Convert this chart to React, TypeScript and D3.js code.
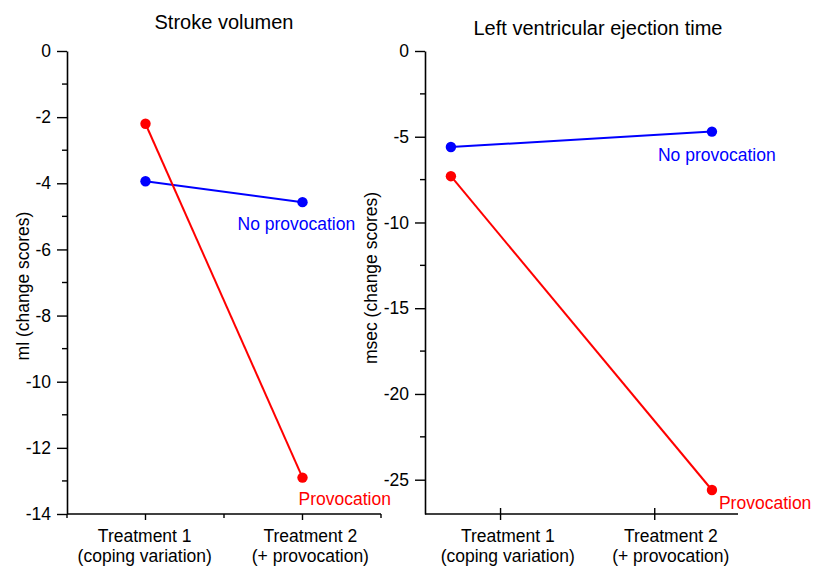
import React, { useEffect, useRef } from "react";
import * as d3 from "d3";

// categories on the x axis (two lines each)
const categories = ["Treatment 1", "Treatment 2"];
const categoryNotes = ["(coping variation)", "(+ provocation)"];

// stroke volume, ml change scores
const strokeNoProvocation = [-3.94, -4.57];
const strokeProvocation = [-2.2, -12.9];

// left ventricular ejection time, msec change scores
const lvetNoProvocation = [-5.6, -4.7];
const lvetProvocation = [-7.3, -25.6];

// y ticks
const strokeTicks = [0, -2, -4, -6, -8, -10, -12, -14];
const strokeMinor = [-1, -3, -5, -7, -9, -11, -13];
const lvetTicks = [0, -5, -10, -15, -20, -25];
const lvetMinor = [-2.5, -7.5, -12.5, -17.5, -22.5];

const FONT = "'Liberation Sans', Arial, Helvetica, sans-serif";
const RED = "#ff0000";
const BLUE = "#0000ff";

type Panel = {
  title: string;
  titleX: number;
  titleY: number;
  yLabel: string;
  yLabelX: number;
  yLabelY: number;
  xRange: [number, number];
  xDomain: [number, number];
  yDomain: [number, number];
  yTicks: number[];
  yMinor: number[];
  xMinor: number[];
  crossTicks: boolean;
  pointX: number[];
  labelX: number[];
  noProv: number[];
  prov: number[];
  noProvLabel: [number, number];
  provLabel: [number, number];
};

const panels: Panel[] = [
  {
    title: "Stroke volumen",
    titleX: 224,
    titleY: 29,
    yLabel: "ml (change scores)",
    yLabelX: 29,
    yLabelY: 286,
    xRange: [67, 381],
    xDomain: [0.5, 2.5],
    yDomain: [-14, 0],
    yTicks: strokeTicks,
    yMinor: strokeMinor,
    xMinor: [0.5, 1.5, 2.5],
    crossTicks: false,
    pointX: [1, 2],
    labelX: [0.995, 2.05],
    noProv: strokeNoProvocation,
    prov: strokeProvocation,
    noProvLabel: [-65, 27.5],
    provLabel: [-4, 27],
  },
  {
    title: "Left ventricular ejection time",
    titleX: 598,
    titleY: 35,
    yLabel: "msec (change scores)",
    yLabelX: 377,
    yLabelY: 278,
    xRange: [425, 738],
    xDomain: [0.51, 2.54],
    yDomain: [-27, 0],
    yTicks: lvetTicks,
    yMinor: lvetMinor,
    xMinor: [],
    crossTicks: true,
    pointX: [0.678, 2.371],
    labelX: [1.047, 2.104],
    noProv: lvetNoProvocation,
    prov: lvetProvocation,
    noProvLabel: [-54, 29],
    provLabel: [7, 18.6],
  },
];

const TOP = 51;
const BOTTOM = 514;

function drawPanel(svg: d3.Selection<SVGSVGElement, unknown, null, undefined>, p: Panel) {
  const g = svg.append("g").attr("font-family", FONT);
  const x = d3.scaleLinear().domain(p.xDomain).range(p.xRange);
  const y = d3.scaleLinear().domain(p.yDomain).range([BOTTOM, TOP]);
  const x0 = p.xRange[0];

  // title
  g.append("text")
    .attr("x", p.titleX)
    .attr("y", p.titleY)
    .attr("text-anchor", "middle")
    .attr("font-size", 20)
    .text(p.title);

  // y axis (plain hyphen for negatives, like the original)
  const yAxis = d3.axisLeft(y)
    .tickValues(p.yTicks)
    .tickFormat((d) => String(d))
    .tickSize(10)
    .tickPadding(6)
    .tickSizeOuter(0);
  const ya = g.append("g").attr("transform", "translate(" + x0 + ",0)").call(yAxis);
  ya.select(".domain").attr("stroke-width", 1.6);
  ya.selectAll(".tick line").attr("stroke-width", 1.4);
  ya.selectAll("text").attr("font-size", 17.5).attr("font-family", FONT).attr("fill", "#000");

  g.append("g")
    .selectAll("line")
    .data(p.yMinor)
    .join("line")
    .attr("x1", x0 - 5)
    .attr("x2", x0)
    .attr("y1", (d) => y(d))
    .attr("y2", (d) => y(d))
    .attr("stroke", "#000")
    .attr("stroke-width", 1.4);

  // x axis
  g.append("line")
    .attr("x1", p.xRange[0])
    .attr("x2", p.xRange[1])
    .attr("y1", BOTTOM)
    .attr("y2", BOTTOM)
    .attr("stroke", "#000")
    .attr("stroke-width", 1.6);

  g.append("g")
    .selectAll("line")
    .data([1, 2])
    .join("line")
    .attr("x1", (d) => x(d))
    .attr("x2", (d) => x(d))
    .attr("y1", p.crossTicks ? BOTTOM - 6 : BOTTOM)
    .attr("y2", BOTTOM + 6)
    .attr("stroke", "#000")
    .attr("stroke-width", 1.4);

  g.append("g")
    .selectAll("line")
    .data(p.xMinor)
    .join("line")
    .attr("x1", (d) => x(d))
    .attr("x2", (d) => x(d))
    .attr("y1", BOTTOM)
    .attr("y2", BOTTOM + 4)
    .attr("stroke", "#000")
    .attr("stroke-width", 1.4);

  const lab = g.append("g").selectAll("text").data(categories).join("text")
    .attr("text-anchor", "middle")
    .attr("font-size", 17.5);
  lab.append("tspan")
    .attr("x", (d, i) => x(p.labelX[i]))
    .attr("y", 542)
    .text((d) => d);
  lab.append("tspan")
    .attr("x", (d, i) => x(p.labelX[i]))
    .attr("y", 562)
    .text((d, i) => categoryNotes[i]);

  // y label
  g.append("text")
    .attr("transform", "translate(" + p.yLabelX + "," + p.yLabelY + ") rotate(-90)")
    .attr("text-anchor", "middle")
    .attr("font-size", 17.5)
    .text(p.yLabel);

  // series
  const line = d3.line<number>()
    .x((d, i) => x(p.pointX[i]))
    .y((d) => y(d));

  const series = [
    { values: p.noProv, color: BLUE, name: "No provocation", off: p.noProvLabel },
    { values: p.prov, color: RED, name: "Provocation", off: p.provLabel },
  ];

  series.forEach((s) => {
    g.append("path")
      .datum(s.values)
      .attr("fill", "none")
      .attr("stroke", s.color)
      .attr("stroke-width", 2)
      .attr("d", line);

    g.append("g")
      .selectAll("circle")
      .data(s.values)
      .join("circle")
      .attr("cx", (d, i) => x(p.pointX[i]))
      .attr("cy", (d) => y(d))
      .attr("r", 5.2)
      .attr("fill", s.color);

    g.append("text")
      .attr("x", x(p.pointX[1]) + s.off[0])
      .attr("y", y(s.values[1]) + s.off[1])
      .attr("font-size", 17.5)
      .attr("fill", s.color)
      .text(s.name);
  });
}

export default function App() {
  const ref = useRef<SVGSVGElement>(null);

  useEffect(() => {
    const svg = d3.select(ref.current as SVGSVGElement);
    svg.selectAll("*").remove();
    panels.forEach((p) => drawPanel(svg, p));
  }, []);

  return (
    <div>
      <style>{"body{margin:0}"}</style>
      <svg ref={ref} width={818} height={576} style={{ display: "block", background: "#fff" }}></svg>
    </div>
  );
}
